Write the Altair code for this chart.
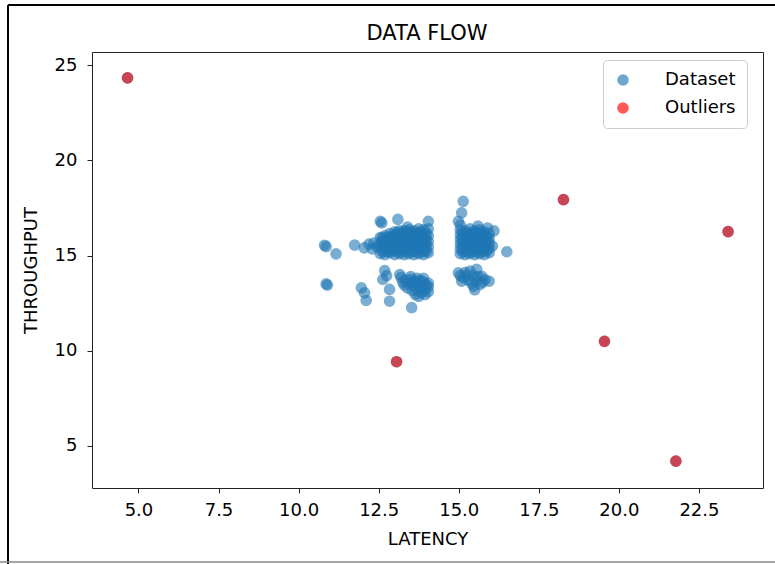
import altair as alt
import pandas as pd

# ---- data (latency, throughput) ----
left_points = [(10.81, 15.54), (10.86, 15.47), (11.17, 15.09), (10.86, 13.51), (10.9, 13.45)]

cluster_a = [
    (11.75, 15.55), (12.05, 15.4), (12.2, 15.6), (12.3, 15.35), (12.35, 15.65), (12.45, 15.45),
    (12.55, 16.8), (12.6, 16.72), (13.1, 16.9), (14.05, 16.8), (13.4, 16.5),
    (12.55, 15.1), (12.55, 15.4), (12.55, 15.7), (12.55, 15.95),
    (12.7, 15.05), (12.7, 15.3), (12.7, 15.55), (12.7, 15.8), (12.7, 16.05),
    (12.85, 15.15), (12.85, 15.4), (12.85, 15.65), (12.85, 15.9), (12.85, 16.15),
    (13.0, 15.05), (13.0, 15.3), (13.0, 15.55), (13.0, 15.8), (13.0, 16.05), (13.0, 16.25),
    (13.15, 15.1), (13.15, 15.35), (13.15, 15.6), (13.15, 15.85), (13.15, 16.1), (13.15, 16.3),
    (13.3, 15.05), (13.3, 15.3), (13.3, 15.55), (13.3, 15.8), (13.3, 16.05), (13.3, 16.3),
    (13.45, 15.1), (13.45, 15.35), (13.45, 15.6), (13.45, 15.85), (13.45, 16.1), (13.45, 16.35),
    (13.6, 15.05), (13.6, 15.3), (13.6, 15.55), (13.6, 15.8), (13.6, 16.05), (13.6, 16.3),
    (13.75, 15.1), (13.75, 15.35), (13.75, 15.6), (13.75, 15.85), (13.75, 16.1), (13.75, 16.4),
    (13.9, 15.05), (13.9, 15.3), (13.9, 15.55), (13.9, 15.8), (13.9, 16.05), (13.9, 16.35),
    (14.05, 15.15), (14.05, 15.45), (14.05, 15.75), (14.05, 16.05), (14.05, 16.4),
    (12.62, 15.2), (12.62, 15.45), (12.62, 15.7), (12.62, 15.95),
    (12.78, 15.2), (12.78, 15.45), (12.78, 15.7), (12.78, 15.95),
    (12.92, 15.25), (12.92, 15.5), (12.92, 15.75), (12.92, 16.0),
    (13.08, 15.2), (13.08, 15.45), (13.08, 15.7), (13.08, 15.95), (13.08, 16.2),
    (13.22, 15.2), (13.22, 15.45), (13.22, 15.7), (13.22, 15.95), (13.22, 16.2),
    (13.38, 15.2), (13.38, 15.45), (13.38, 15.7), (13.38, 15.95), (13.38, 16.2),
    (13.52, 15.2), (13.52, 15.45), (13.52, 15.7), (13.52, 15.95), (13.52, 16.2),
    (13.68, 15.2), (13.68, 15.45), (13.68, 15.7), (13.68, 15.95), (13.68, 16.2),
    (13.82, 15.2), (13.82, 15.45), (13.82, 15.7), (13.82, 15.95), (13.82, 16.25),
    (13.98, 15.2), (13.98, 15.45), (13.98, 15.7), (13.98, 15.95), (13.98, 16.2),
]

cluster_b = [
    (11.96, 13.3), (12.06, 13.04), (12.11, 12.64), (12.69, 14.21), (12.63, 13.74),
    (12.84, 13.22), (12.84, 12.6), (13.16, 14.0), (13.53, 12.26), (13.25, 13.6),
    (12.75, 13.95), (13.2, 13.85),
    (13.35, 13.7), (13.45, 13.55), (13.5, 13.75), (13.6, 13.4), (13.65, 13.65),
    (13.7, 13.2), (13.75, 13.5), (13.85, 13.05), (13.85, 13.35), (13.9, 13.6),
    (13.95, 13.2), (14.0, 13.45), (14.05, 13.1), (14.05, 13.35), (13.6, 13.6), (13.8, 13.7),
    (13.3, 13.45), (13.4, 13.3), (13.55, 13.15), (13.65, 12.95), (13.75, 12.85),
    (13.95, 12.95), (14.05, 13.55), (13.5, 13.9), (13.7, 13.8), (13.9, 13.8),
]

cluster_c = [
    (15.05, 15.1), (15.05, 15.35), (15.05, 15.6), (15.05, 15.85), (15.05, 16.1), (15.05, 16.35),
    (15.2, 15.05), (15.2, 15.3), (15.2, 15.55), (15.2, 15.8), (15.2, 16.05), (15.2, 16.3),
    (15.35, 15.1), (15.35, 15.35), (15.35, 15.6), (15.35, 15.85), (15.35, 16.1), (15.35, 16.4),
    (15.5, 15.05), (15.5, 15.3), (15.5, 15.55), (15.5, 15.8), (15.5, 16.05), (15.5, 16.3),
    (15.65, 15.1), (15.65, 15.35), (15.65, 15.6), (15.65, 15.85), (15.65, 16.1), (15.65, 16.35),
    (15.8, 15.05), (15.8, 15.3), (15.8, 15.55), (15.8, 15.8), (15.8, 16.05), (15.8, 16.25),
    (15.95, 15.15), (15.95, 15.4), (15.95, 15.65), (15.95, 15.9), (15.95, 16.15),
    (15.12, 15.2), (15.12, 15.45), (15.12, 15.7), (15.12, 15.95), (15.12, 16.2),
    (15.28, 15.2), (15.28, 15.45), (15.28, 15.7), (15.28, 15.95), (15.28, 16.2),
    (15.42, 15.2), (15.42, 15.45), (15.42, 15.7), (15.42, 15.95), (15.42, 16.2),
    (15.58, 15.2), (15.58, 15.45), (15.58, 15.7), (15.58, 15.95), (15.58, 16.2),
    (15.72, 15.2), (15.72, 15.45), (15.72, 15.7), (15.72, 15.95), (15.72, 16.2),
    (15.88, 15.25), (15.88, 15.5), (15.88, 15.75), (15.88, 16.0),
    (15.14, 17.85), (15.09, 17.24), (14.99, 16.8), (15.05, 16.6), (15.6, 16.55),
    (16.1, 16.3), (16.05, 15.5), (16.5, 15.2), (15.9, 16.45),
]

cluster_d = [
    (14.99, 14.09), (15.14, 13.83), (15.35, 14.18), (15.56, 14.27), (15.46, 13.39),
    (15.72, 13.91), (15.82, 13.74), (15.09, 13.65), (15.67, 13.48), (15.25, 13.95),
    (15.45, 13.95), (15.55, 13.7), (15.3, 13.7), (15.4, 13.55), (15.95, 13.65),
    (15.5, 13.2), (15.05, 13.95), (15.2, 14.1), (15.6, 13.9), (15.75, 13.6),
]

outliers = [(4.66, 24.34), (13.06, 9.42), (18.27, 17.94), (19.55, 10.49), (21.78, 4.19), (23.41, 16.26)]

x_ticks = [5.0, 7.5, 10.0, 12.5, 15.0, 17.5, 20.0, 22.5]
y_ticks = [5, 10, 15, 20, 25]
series_names = ["Dataset", "Outliers"]
series_colors = ["#1f77b4", "#ff0000"]
chart_title = ["DATA FLOW"]

rows = []
for x, y in left_points + cluster_a + cluster_b + cluster_c + cluster_d + outliers:
    rows.append({"latency": x, "throughput": y, "series": "Dataset"})
for x, y in outliers:
    rows.append({"latency": x, "throughput": y, "series": "Outliers"})
df = pd.DataFrame(rows)

FONT = "DejaVu Sans"

points = alt.Chart(df).mark_circle(size=135, opacity=0.6).encode(
    x=alt.X(
        "latency:Q",
        scale=alt.Scale(domain=[3.55, 24.5], nice=False, zero=False),
        axis=alt.Axis(values=x_ticks, format=".1f", title="LATENCY"),
    ),
    y=alt.Y(
        "throughput:Q",
        scale=alt.Scale(domain=[2.78, 25.7], nice=False, zero=False),
        axis=alt.Axis(values=y_ticks, format="d", title="THROUGHPUT"),
    ),
    color=alt.Color(
        "series:N",
        scale=alt.Scale(domain=series_names, range=series_colors),
        legend=alt.Legend(
            title=None,
            orient="none",
            legendX=511,
            legendY=8,
            padding=11,
            rowPadding=10,
            labelOffset=33,
            symbolType="circle",
            symbolSize=135,
            symbolOpacity=0.65,
            symbolStrokeWidth=0,
            labelFont=FONT,
            labelFontSize=18,
            labelColor="#000000",
            strokeColor="#cccccc",
            fillColor="white",
            cornerRadius=4,
        ),
    ),
)

title_mark = alt.Chart(pd.DataFrame({"t": chart_title})).mark_text(
    font=FONT, fontSize=21, color="#000000", baseline="middle", align="center"
).encode(text="t:N", x=alt.value(335), y=alt.value(-18))

one = pd.DataFrame({"k": [0]})
frame_left = alt.Chart(one).mark_rule(color="black", strokeWidth=2).encode(
    x=alt.value(-84), y=alt.value(-47), y2=alt.value(512)
)
frame_top = alt.Chart(one).mark_rule(color="black", strokeWidth=2).encode(
    y=alt.value(-47), x=alt.value(-84), x2=alt.value(683)
)
frame_bottom = alt.Chart(one).mark_rule(color="#888888", strokeWidth=1.5).encode(
    y=alt.value(510), x=alt.value(-92), x2=alt.value(683)
)

chart = alt.layer(points, title_mark, frame_left, frame_top, frame_bottom).properties(
    width=671,
    height=436,
    autosize=alt.AutoSizeParams(type="none"),
    padding={"left": 92, "top": 52, "right": 12, "bottom": 76},
    background="white",
).configure_view(
    stroke="#222222", strokeWidth=1
).configure_axis(
    grid=False,
    domain=False,
    ticks=True,
    tickSize=5,
    tickColor="#222222",
    labelFont=FONT,
    labelFontSize=18,
    labelColor="#000000",
    titleFont=FONT,
    titleFontSize=18,
    titleFontWeight="normal",
    titleColor="#000000",
).configure_axisX(
    labelPadding=8,
    titlePadding=11,
).configure_axisY(
    labelPadding=10,
    titlePadding=14,
)

chart.save("out.html", embed_options={"renderer": "svg", "actions": False})
